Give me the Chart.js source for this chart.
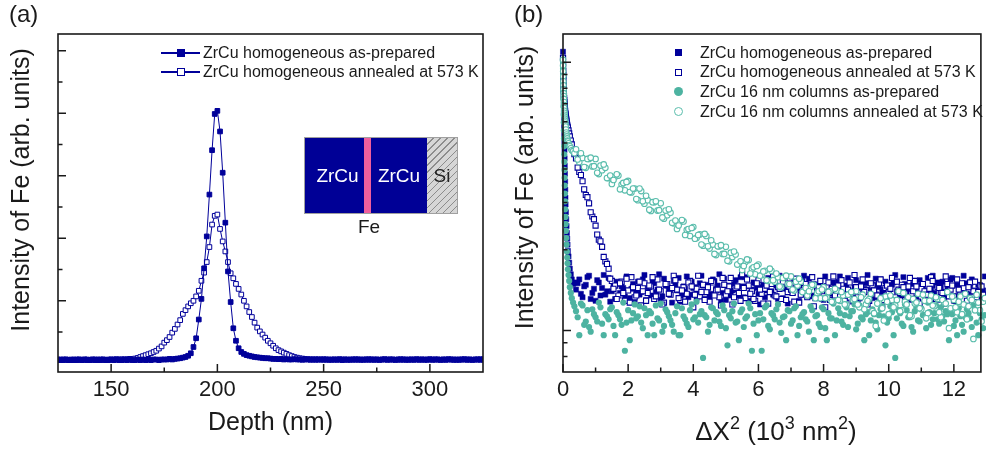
<!DOCTYPE html>
<html>
<head>
<meta charset="utf-8">
<title>Fe tracer profiles</title>
<script src="https://cdn.jsdelivr.net/npm/chart.js@4.4.1/dist/chart.umd.min.js"></script>
<style>
  html, body { margin: 0; padding: 0; background: #fff; }
  body { position: relative; width: 986px; height: 452px; overflow: hidden;
         font-family: "Liberation Sans", Arial, sans-serif; color: #1a1a1a; }
  canvas { position: absolute; top: 0; }
  #chartA { left: 0; }
  #chartB { left: 493px; }
  .tag { position: absolute; top: -1px; font-size: 24px; line-height: 30px; }
  .legend { position: absolute; font-size: 16px; }
  .legend .row { display: flex; align-items: center; white-space: nowrap; }
  .mark { position: relative; flex: none; height: 100%; }
  .mark span { position: absolute; box-sizing: border-box; }
  .inset div { position: absolute; box-sizing: border-box; }
  .inset .lbl { display: flex; align-items: center; justify-content: center; font-size: 19px; }
</style>
</head>
<body>
<canvas id="chartA" width="493" height="452"></canvas>
<canvas id="chartB" width="493" height="452"></canvas>
<div class="tag" style="left:9px">(a)</div>
<div class="tag" style="left:514px">(b)</div>
<div id="legendA" class="legend" style="left:161px; top:43px"></div>
<div id="legendB" class="legend" style="left:668px; top:43px"></div>

<!-- sample sketch inside panel (a) -->
<div class="inset">
  <div style="left:304px; top:137px; width:154px; height:77px; border:1px solid #a0a0a0"></div>
  <div style="left:305px; top:138px; width:59px; height:75px; background:#000096"></div>
  <div style="left:364px; top:138px; width:7px; height:75px; background:#ef5f9d"></div>
  <div style="left:371px; top:138px; width:56px; height:75px; background:#000096"></div>
  <div style="left:427px; top:138px; width:30px; height:75px;
              background:repeating-linear-gradient(135deg, #d6d6d6 0 4px, #8c8c8c 4px 5px)"></div>
  <div class="lbl" style="left:308px; top:138px; width:59px; height:75px; color:#fff">ZrCu</div>
  <div class="lbl" style="left:371px; top:138px; width:56px; height:75px; color:#fff">ZrCu</div>
  <div class="lbl" style="left:427px; top:138px; width:30px; height:75px; color:#222">Si</div>
  <div class="lbl" style="left:339px; top:214px; width:60px; height:26px; color:#1a1a1a">Fe</div>
</div>

<script>
// ---- panel (a): Fe depth profiles ----
const depthNm = [
  125, 126.25, 127.5, 128.75, 130, 131.25, 132.5, 133.75,
  135, 136.25, 137.5, 138.75, 140, 141.25, 142.5, 143.75,
  145, 146.25, 147.5, 148.75, 150, 151.25, 152.5, 153.75,
  155, 156.25, 157.5, 158.75, 160, 161.25, 162.5, 163.75,
  165, 166.25, 167.5, 168.75, 170, 171.25, 172.5, 173.75,
  175, 176.25, 177.5, 178.75, 180, 181.25, 182.5, 183.75,
  185, 186.25, 187.5, 188.75, 190, 191.25, 192.5, 193.75,
  195, 196.25, 197.5, 198.75, 200, 201.25, 202.5, 203.75,
  205, 206.25, 207.5, 208.75, 210, 211.25, 212.5, 213.75,
  215, 216.25, 217.5, 218.75, 220, 221.25, 222.5, 223.75,
  225, 226.25, 227.5, 228.75, 230, 231.25, 232.5, 233.75,
  235, 236.25, 237.5, 238.75, 240, 241.25, 242.5, 243.75,
  245, 246.25, 247.5, 248.75, 250, 251.25, 252.5, 253.75,
  255, 256.25, 257.5, 258.75, 260, 261.25, 262.5, 263.75,
  265, 266.25, 267.5, 268.75, 270, 271.25, 272.5, 273.75,
  275, 276.25, 277.5, 278.75, 280, 281.25, 282.5, 283.75,
  285, 286.25, 287.5, 288.75, 290, 291.25, 292.5, 293.75,
  295, 296.25, 297.5, 298.75, 300, 301.25, 302.5, 303.75,
  305, 306.25, 307.5, 308.75, 310, 311.25, 312.5, 313.75,
  315, 316.25, 317.5, 318.75, 320, 321.25, 322.5, 323.75, 325
];
const feAsPrepared = [
  0.05, 0.06, 0.05, 0.06, 0.05, 0.05, 0.06, 0.05,
  0.06, 0.05, 0.06, 0.05, 0.05, 0.06, 0.05, 0.06,
  0.05, 0.06, 0.05, 0.05, 0.06, 0.05, 0.06, 0.05,
  0.05, 0.06, 0.05, 0.06, 0.05, 0.05, 0.06, 0.05,
  0.06, 0.05, 0.06, 0.05, 0.06, 0.06, 0.05, 0.06,
  0.06, 0.06, 0.07, 0.06, 0.07, 0.075, 0.08, 0.09,
  0.10, 0.12, 0.16, 0.26, 0.40, 0.70, 1.03, 1.52,
  2.03, 2.70, 3.41, 3.99, 4.04, 3.71, 3.05, 2.25,
  1.47, 0.98, 0.56, 0.36, 0.24, 0.18, 0.15, 0.13,
  0.12, 0.11, 0.10, 0.095, 0.09, 0.085, 0.08, 0.08,
  0.075, 0.07, 0.07, 0.065, 0.07, 0.06, 0.065, 0.06,
  0.06, 0.065, 0.06, 0.06, 0.055, 0.06, 0.06, 0.055,
  0.06, 0.055, 0.06, 0.06, 0.055, 0.06, 0.055, 0.06,
  0.06, 0.055, 0.06, 0.05, 0.06, 0.055, 0.06, 0.06,
  0.055, 0.06, 0.055, 0.06, 0.06, 0.055, 0.06, 0.055,
  0.06, 0.055, 0.06, 0.06, 0.055, 0.06, 0.06, 0.055,
  0.06, 0.055, 0.06, 0.055, 0.06, 0.06, 0.055, 0.06,
  0.055, 0.06, 0.06, 0.055, 0.06, 0.055, 0.06, 0.06,
  0.055, 0.06, 0.055, 0.06, 0.06, 0.055, 0.06, 0.055,
  0.06, 0.06, 0.055, 0.06, 0.055, 0.06, 0.06, 0.055, 0.06
];
const feAnnealed = [
  0.06, 0.05, 0.06, 0.06, 0.05, 0.06, 0.05, 0.06,
  0.06, 0.05, 0.06, 0.06, 0.05, 0.06, 0.06, 0.05,
  0.06, 0.06, 0.05, 0.06, 0.06, 0.06, 0.065, 0.06,
  0.065, 0.06, 0.065, 0.07, 0.07, 0.075, 0.085, 0.10,
  0.115, 0.13, 0.145, 0.16, 0.18, 0.20, 0.235, 0.27,
  0.33, 0.37, 0.42, 0.49, 0.55, 0.62, 0.69, 0.79,
  0.85, 0.91, 0.96, 1.00, 1.07, 1.16, 1.32, 1.45,
  1.62, 1.86, 2.22, 2.36, 2.38, 2.15, 1.95, 1.79,
  1.62, 1.44, 1.36, 1.27, 1.19, 1.10, 1.00, 0.91,
  0.82, 0.74, 0.65, 0.57, 0.51, 0.46, 0.41, 0.36,
  0.32, 0.28, 0.24, 0.21, 0.19, 0.17, 0.15, 0.13,
  0.115, 0.10, 0.09, 0.08, 0.075, 0.07, 0.065, 0.065,
  0.06, 0.065, 0.06, 0.06, 0.065, 0.06, 0.06, 0.055,
  0.06, 0.06, 0.065, 0.06, 0.06, 0.06, 0.055, 0.06,
  0.065, 0.06, 0.06, 0.055, 0.06, 0.065, 0.06, 0.06,
  0.06, 0.055, 0.06, 0.065, 0.06, 0.06, 0.06, 0.055,
  0.06, 0.065, 0.06, 0.06, 0.055, 0.06, 0.06, 0.065,
  0.06, 0.06, 0.055, 0.06, 0.065, 0.06, 0.06, 0.06,
  0.055, 0.06, 0.06, 0.065, 0.06, 0.06, 0.055, 0.06,
  0.06, 0.065, 0.06, 0.06, 0.055, 0.06, 0.06, 0.065, 0.06
];
const depthTicks = [150, 175, 200, 225, 250, 275, 300];
const depthLabels = [150, 200, 250, 300];
const feTicksA = [0.5, 1, 1.5, 2, 2.5, 3, 3.5, 4, 4.5, 5];
const feMajorA = [1, 2, 3, 4, 5];

// ---- panel (b): intensity vs squared distance ----
// main grid
const dx2 = [
  0, 0.003, 0.006, 0.009, 0.012, 0.015, 0.018, 0.021, 0.024, 0.027,
  0.03, 0.034, 0.038, 0.042, 0.046, 0.05, 0.055, 0.06, 0.065, 0.07,
  0.075, 0.08, 0.09, 0.1, 0.11, 0.12, 0.13, 0.14, 0.15, 0.17,
  0.19, 0.21, 0.24, 0.27, 0.31, 0.35,
  0.4, 0.5, 0.6, 0.7, 0.8, 0.9, 1.0, 1.1, 1.2, 1.3,
  1.4, 1.5, 1.6, 1.7, 1.8, 1.9, 2.0, 2.1, 2.2, 2.3,
  2.4, 2.5, 2.6, 2.7, 2.8, 2.9, 3.0, 3.1, 3.2, 3.3,
  3.4, 3.5, 3.6, 3.7, 3.8, 3.9, 4.0, 4.1, 4.2, 4.3,
  4.4, 4.5, 4.6, 4.7, 4.8, 4.9, 5.0, 5.1, 5.2, 5.3,
  5.4, 5.5, 5.6, 5.7, 5.8, 5.9, 6.0, 6.1, 6.2, 6.3,
  6.4, 6.5, 6.6, 6.7, 6.8, 6.9, 7.0, 7.1, 7.2, 7.3,
  7.4, 7.5, 7.6, 7.7, 7.8, 7.9, 8.0, 8.1, 8.2, 8.3,
  8.4, 8.5, 8.6, 8.7, 8.8, 8.9, 9.0, 9.1, 9.2, 9.3,
  9.4, 9.5, 9.6, 9.7, 9.8, 9.9, 10.0, 10.1, 10.2, 10.3,
  10.4, 10.5, 10.6, 10.7, 10.8, 10.9, 11.0, 11.1, 11.2, 11.3,
  11.4, 11.5, 11.6, 11.7, 11.8, 11.9, 12.0, 12.1, 12.2, 12.3,
  12.4, 12.5, 12.6, 12.7, 12.8, 12.9, 13.0
];
// in-between grid (second half of the measured points)
const dx2Mid = [
  0.45, 0.55, 0.65, 0.75, 0.85, 0.95, 1.05, 1.15, 1.25, 1.35,
  1.45, 1.55, 1.65, 1.75, 1.85, 1.95, 2.05, 2.15, 2.25, 2.35,
  2.45, 2.55, 2.65, 2.75, 2.85, 2.95, 3.05, 3.15, 3.25, 3.35,
  3.45, 3.55, 3.65, 3.75, 3.85, 3.95, 4.05, 4.15, 4.25, 4.35,
  4.45, 4.55, 4.65, 4.75, 4.85, 4.95, 5.05, 5.15, 5.25, 5.35,
  5.45, 5.55, 5.65, 5.75, 5.85, 5.95, 6.05, 6.15, 6.25, 6.35,
  6.45, 6.55, 6.65, 6.75, 6.85, 6.95, 7.05, 7.15, 7.25, 7.35,
  7.45, 7.55, 7.65, 7.75, 7.85, 7.95, 8.05, 8.15, 8.25, 8.35,
  8.45, 8.55, 8.65, 8.75, 8.85, 8.95, 9.05, 9.15, 9.25, 9.35,
  9.45, 9.55, 9.65, 9.75, 9.85, 9.95, 10.05, 10.15, 10.25, 10.35,
  10.45, 10.55, 10.65, 10.75, 10.85, 10.95, 11.05, 11.15, 11.25, 11.35,
  11.45, 11.55, 11.65, 11.75, 11.85, 11.95, 12.05, 12.15, 12.25, 12.35,
  12.45, 12.55, 12.65, 12.75, 12.85, 12.95
];
const homAsPrep = [
  10.95, 10.40, 9.89, 9.32, 8.79, 8.28, 7.81, 7.36, 6.93, 6.54,
  6.16, 5.76, 5.38, 5.03, 4.70, 4.39, 4.11, 3.84, 3.59, 3.35,
  3.13, 2.95, 2.76, 2.60, 2.45, 2.31, 2.20, 2.09, 1.98, 1.89,
  1.79, 1.70, 1.62, 1.55, 1.49, 1.51,
  1.42, 1.55, 1.33, 1.48, 1.60, 1.38, 1.29, 1.51, 1.44, 1.36,
  1.57, 1.40, 1.31, 1.49, 1.46, 1.34, 1.58, 1.43, 1.27, 1.52,
  1.39, 1.61, 1.45, 1.35, 1.50, 1.42, 1.30, 1.56, 1.47, 1.37,
  1.53, 1.41, 1.28, 1.46, 1.59, 1.36, 1.44, 1.32, 1.50, 1.40,
  1.48, 1.33, 1.55, 1.43, 1.62, 1.38, 1.30, 1.47, 1.41, 1.54,
  1.35, 1.46, 1.58, 1.29, 1.42, 1.50, 1.37, 1.45, 1.33, 1.57,
  1.40, 1.52, 1.31, 1.44, 1.48, 1.26, 1.39, 1.55, 1.43, 1.36,
  1.60, 1.45, 1.34, 1.49, 1.41, 1.53, 1.30, 1.46, 1.38, 1.51,
  1.43, 1.59, 1.35, 1.47, 1.40, 1.28, 1.54, 1.44, 1.37, 1.50,
  1.42, 1.32, 1.56, 1.45, 1.39, 1.52, 1.34, 1.48, 1.61, 1.41,
  1.36, 1.49, 1.44, 1.30, 1.53, 1.40, 1.47, 1.35, 1.57, 1.43,
  1.38, 1.51, 1.46, 1.33, 1.42, 1.55, 1.29, 1.48, 1.40, 1.60,
  1.37, 1.45, 1.52, 1.34, 1.47, 1.41, 1.54
];
const homAsPrepMid = [
  1.50, 1.37, 1.46, 1.58, 1.31, 1.43, 1.54, 1.35, 1.61, 1.40,
  1.28, 1.47, 1.52, 1.38, 1.44, 1.59, 1.32, 1.49, 1.41, 1.36,
  1.55, 1.30, 1.45, 1.51, 1.39, 1.62, 1.34, 1.47, 1.42, 1.27,
  1.48, 1.57, 1.36, 1.43, 1.33, 1.52, 1.45, 1.39, 1.60, 1.31,
  1.44, 1.37, 1.53, 1.47, 1.29, 1.56, 1.40, 1.35, 1.49, 1.42,
  1.58, 1.33, 1.46, 1.38, 1.51, 1.44, 1.25, 1.48, 1.41, 1.55,
  1.36, 1.47, 1.60, 1.32, 1.43, 1.50, 1.38, 1.45, 1.29, 1.53,
  1.40, 1.56, 1.35, 1.48, 1.42, 1.31, 1.59, 1.44, 1.37, 1.46,
  1.52, 1.34, 1.41, 1.57, 1.39, 1.45, 1.30, 1.50, 1.43, 1.61,
  1.37, 1.48, 1.33, 1.55, 1.42, 1.46, 1.28, 1.51, 1.40, 1.35,
  1.58, 1.43, 1.38, 1.49, 1.32, 1.54, 1.45, 1.41, 1.36, 1.60,
  1.47, 1.30, 1.52, 1.39, 1.44, 1.57, 1.34, 1.46, 1.42, 1.50,
  1.36, 1.55, 1.41, 1.48, 1.33, 1.59
];
const homAnnealed = [
  10.40, 9.81, 9.32, 8.94, 8.64, 8.35, 8.14, 7.94, 7.81, 7.61,
  7.48, 7.36, 7.23, 7.11, 6.99, 6.88, 6.76, 6.65, 6.59, 6.48,
  6.43, 6.37, 6.27, 6.16, 6.06, 5.96, 5.85, 5.76, 5.71, 5.57,
  5.43, 5.29, 5.11, 4.94, 4.74, 4.54,
  4.38, 3.90, 3.60, 3.20, 2.98, 2.66, 2.46, 2.18, 2.05, 1.81,
  1.70, 1.53, 1.47, 1.35, 1.52, 1.29, 1.41, 1.58, 1.33, 1.44,
  1.24, 1.50, 1.38, 1.46, 1.31, 1.55, 1.40, 1.27, 1.49, 1.36,
  1.60, 1.42, 1.30, 1.45, 1.37, 1.53, 1.22, 1.43, 1.34, 1.48,
  1.39, 1.28, 1.51, 1.41, 1.33, 1.57, 1.36, 1.46, 1.25, 1.44,
  1.38, 1.62, 1.32, 1.47, 1.40, 1.29, 1.54, 1.37, 1.43, 1.26,
  1.49, 1.35, 1.45, 1.31, 1.56, 1.39, 1.42, 1.28, 1.50, 1.36,
  1.44, 1.33, 1.48, 1.23, 1.41, 1.53, 1.37, 1.46, 1.30, 1.59,
  1.40, 1.34, 1.43, 1.27, 1.51, 1.38, 1.45, 1.32, 1.55, 1.41,
  1.29, 1.47, 1.36, 1.50, 1.24, 1.44, 1.39, 1.57, 1.33, 1.42,
  1.48, 1.30, 1.46, 1.37, 1.53, 1.28, 1.43, 1.40, 1.35, 1.58,
  1.31, 1.45, 1.39, 1.26, 1.49, 1.42, 1.34, 1.55, 1.38, 1.44,
  1.29, 1.51, 1.40, 1.33, 1.47, 1.36, 1.43
];
const homAnnealedMid = [
  4.05, 3.80, 3.36, 3.14, 2.76, 2.60, 2.28, 2.15, 1.88, 1.77,
  1.56, 1.43, 1.31, 1.50, 1.38, 1.56, 1.27, 1.45, 1.35, 1.52,
  1.40, 1.29, 1.47, 1.58, 1.34, 1.42, 1.25, 1.49, 1.37, 1.44,
  1.54, 1.32, 1.41, 1.28, 1.51, 1.46, 1.36, 1.60, 1.39, 1.30,
  1.45, 1.53, 1.35, 1.42, 1.24, 1.48, 1.40, 1.57, 1.33, 1.46,
  1.29, 1.44, 1.55, 1.37, 1.31, 1.50, 1.42, 1.26, 1.47, 1.39,
  1.59, 1.34, 1.43, 1.52, 1.30, 1.46, 1.38, 1.56, 1.27, 1.41,
  1.49, 1.36, 1.58, 1.32, 1.45, 1.40, 1.22, 1.51, 1.43, 1.35,
  1.47, 1.54, 1.29, 1.42, 1.37, 1.61, 1.33, 1.46, 1.39, 1.25,
  1.50, 1.41, 1.35, 1.55, 1.30, 1.47, 1.43, 1.28, 1.52, 1.38,
  1.45, 1.32, 1.57, 1.40, 1.46, 1.26, 1.49, 1.36, 1.43, 1.53,
  1.31, 1.44, 1.38, 1.59, 1.34, 1.47, 1.29, 1.42, 1.50, 1.37,
  1.45, 1.33, 1.52, 1.39, 1.46, 1.30
];
const colAsPrep = [
  10.06, 9.48, 8.94, 8.35, 7.81, 7.30, 6.82, 6.37, 5.96, 5.57,
  5.20, 4.86, 4.54, 4.25, 3.97, 3.71, 3.47, 3.24, 3.03, 2.83,
  2.65, 2.49, 2.35, 2.21, 2.09, 1.97, 1.87, 1.78, 1.69, 1.61,
  1.53, 1.45, 1.38, 1.32, 1.27, 1.23,
  1.18, 0.96, 1.24, 1.08, 1.03, 1.20, 1.12, 1.27, 1.06, 1.15,
  1.10, 1.22, 0.96, 1.14, 1.05, 0.84, 1.19, 1.09, 1.25, 1.13,
  1.07, 1.21, 0.96, 1.16, 0.96, 1.11, 1.26, 1.04, 1.17, 1.09,
  0.99, 1.23, 0.96, 1.13, 1.06, 1.19, 1.10, 1.28, 1.15, 0.79,
  1.12, 1.05, 1.21, 1.17, 1.08, 1.24, 1.02, 1.14, 1.18, 1.07,
  0.92, 1.20, 1.11, 1.26, 0.84, 1.15, 1.09, 0.84, 1.22, 1.04,
  1.16, 1.10, 1.25, 0.98, 1.13, 1.19, 1.06, 1.21, 0.96, 1.12,
  1.17, 1.08, 1.23, 0.92, 1.14, 1.03, 1.20, 0.92, 1.11, 1.26,
  1.09, 1.16, 1.05, 1.22, 1.13, 1.18, 1.01, 1.24, 1.10, 1.15,
  0.96, 1.20, 1.07, 1.14, 1.23, 0.88, 1.11, 1.17, 0.79, 1.19,
  1.06, 1.25, 1.12, 1.03, 1.18, 1.09, 1.21, 1.14, 1.27, 1.05,
  1.16, 1.10, 1.22, 1.08, 1.15, 1.19, 1.04, 0.96, 1.13, 0.99,
  1.20, 1.11, 1.24, 1.07, 1.16, 1.02, 1.18
];
const colAsPrepMid = [
  1.12, 1.26, 1.05, 1.19, 0.99, 1.15, 1.08, 1.22, 0.96, 1.13,
  1.20, 1.04, 1.17, 1.10, 1.27, 1.07, 0.92, 1.16, 1.11, 1.23,
  1.02, 1.14, 1.18, 1.06, 1.24, 1.09, 0.99, 1.20, 1.13, 1.05,
  1.16, 0.96, 1.21, 1.10, 1.03, 1.25, 1.12, 1.07, 1.18, 1.14,
  0.99, 1.22, 1.09, 1.15, 1.04, 1.19, 0.88, 1.11, 1.26, 1.08,
  1.17, 1.03, 1.13, 1.21, 1.06, 0.96, 1.16, 1.10, 1.24, 1.01,
  1.14, 1.20, 1.07, 1.12, 0.92, 1.18, 1.09, 1.23, 1.04, 1.15,
  1.10, 0.99, 1.19, 1.13, 1.06, 1.22, 1.02, 1.16, 1.11, 0.96,
  1.21, 1.08, 1.14, 1.03, 1.18, 1.25, 1.06, 1.12, 0.92, 1.17,
  1.09, 1.15, 1.01, 1.20, 1.13, 1.07, 1.23, 0.96, 1.11, 1.16,
  1.04, 1.19, 1.12, 0.99, 1.22, 1.08, 1.14, 1.02, 1.17, 1.10,
  1.24, 1.06, 1.13, 1.18, 0.92, 1.15, 1.09, 1.21, 1.05, 1.12,
  1.16, 1.03, 1.19, 0.96, 1.10, 1.14
];
const colAnnealed = [
  10.23, 9.72, 9.25, 8.86, 8.49, 8.21, 7.94, 7.67, 7.48, 7.30,
  7.11, 6.93, 6.76, 6.59, 6.48, 6.37, 6.27, 6.16, 6.06, 5.96,
  5.85, 5.76, 5.61, 5.47, 5.38, 5.29, 5.20, 5.11, 5.07, 4.99,
  4.90, 4.86, 4.78, 4.70, 4.66, 4.58,
  4.74, 4.25, 4.40, 4.04, 4.36, 4.09, 4.36, 3.83, 3.96, 4.04,
  3.70, 3.52, 3.74, 3.78, 3.50, 3.33, 3.61, 3.27, 3.38, 3.06,
  3.31, 2.97, 3.06, 2.79, 3.01, 2.80, 2.98, 2.61, 2.69, 2.75,
  2.51, 2.39, 2.53, 2.55, 2.37, 2.25, 2.43, 2.21, 2.28, 2.07,
  2.25, 2.02, 2.09, 1.91, 2.06, 1.93, 2.05, 1.81, 1.88, 1.92,
  1.77, 1.68, 1.80, 1.83, 1.70, 1.62, 1.76, 1.61, 1.67, 1.53,
  1.67, 1.52, 1.58, 1.45, 1.58, 1.49, 1.59, 1.41, 1.47, 1.52,
  1.40, 1.35, 1.45, 1.48, 1.38, 1.32, 1.45, 1.33, 1.40, 1.28,
  1.41, 1.29, 1.35, 1.25, 1.37, 1.30, 1.40, 1.22, 1.36, 1.25,
  1.31, 1.18, 1.04, 1.27, 1.21, 1.34, 1.15, 1.30, 1.24, 1.40,
  1.19, 1.28, 1.33, 1.13, 1.26, 1.37, 1.20, 1.29, 1.16, 1.35,
  1.23, 1.31, 1.12, 1.27, 1.39, 1.21, 1.30, 1.17, 1.34, 1.25,
  1.10, 1.32, 0.93, 1.36, 1.19, 1.28, 1.24
];
const colAnnealedMid = [
  4.34, 4.58, 4.07, 4.36, 4.41, 4.10, 3.87, 4.12, 4.16, 3.70,
  3.78, 3.64, 3.82, 3.36, 3.55, 3.58, 3.28, 3.38, 3.09, 3.38,
  3.03, 3.18, 2.82, 3.01, 3.03, 2.81, 2.64, 2.80, 2.83, 2.52,
  2.57, 2.46, 2.58, 2.27, 2.39, 2.41, 2.20, 2.27, 2.09, 2.29,
  2.06, 2.17, 1.93, 2.06, 2.08, 1.93, 1.82, 1.95, 1.97, 1.76,
  1.81, 1.74, 1.84, 1.63, 1.72, 1.74, 1.60, 1.66, 1.54, 1.70,
  1.54, 1.63, 1.46, 1.57, 1.60, 1.49, 1.42, 1.52, 1.56, 1.39,
  1.44, 1.40, 1.48, 1.32, 1.40, 1.42, 1.32, 1.39, 1.28, 1.43,
  1.30, 1.39, 1.25, 1.36, 1.39, 1.31, 1.25,
  1.33, 1.20, 1.29, 1.37, 1.16, 1.26, 1.32, 1.09, 1.28, 1.35,
  1.22, 1.30, 1.18, 1.38, 1.25, 1.14, 1.31, 1.27, 1.21, 1.36,
  1.11, 1.29, 1.24, 1.33, 1.17, 1.30, 1.26, 1.02, 1.34, 1.22,
  1.28, 1.15, 1.37, 1.23, 1.30, 1.19, 1.27, 1.08, 1.32
];
const dxTicks = [0, 1, 2, 3, 4, 5, 6, 7, 8, 9, 10, 11, 12];
const dxLabels = [0, 2, 4, 6, 8, 10, 12];
const feTicksB = [0.8, 0.9, 1, 2, 3, 4, 5, 6, 7, 8, 9, 10];
const feMajorB = [1, 10];

const yTitle = 'Intensity of Fe (arb. units)';
const labelsA = ['ZrCu homogeneous as-prepared', 'ZrCu homogeneous annealed at 573 K'];
const labelsB = ['ZrCu homogeneous as-prepared', 'ZrCu homogeneous annealed at 573 K',
                 'ZrCu 16 nm columns as-prepared', 'ZrCu 16 nm columns annealed at 573 K'];

const NAVY = '#00009a';
const TEAL = '#4db3a1';
const TEAL_OPEN = '#5abdac';
const INK = '#1a1a1a';
const FONT = '"Liberation Sans", Arial, sans-serif';

Chart.defaults.font.family = FONT;
Chart.defaults.color = INK;

function pts(xs, ys) {
  return xs.map((x, i) => ({ x: x, y: ys[i] }));
}

function fixedTicks(values) {
  return scale => { scale.ticks = values.map(v => ({ value: v })); };
}

// inward ticks + closed frame, like the original plotting program
const frameTicks = {
  id: 'frameTicks',
  afterDraw(chart, args, o) {
    const { ctx, chartArea: a } = chart;
    const sx = chart.scales.x, sy = chart.scales.y;
    ctx.save();
    ctx.strokeStyle = INK;
    ctx.lineWidth = 1.5;
    ctx.beginPath();
    sx.ticks.forEach(t => {
      const p = sx.getPixelForValue(t.value);
      const len = o.xMajor.includes(t.value) ? 8 : 4.5;
      ctx.moveTo(p, a.bottom);
      ctx.lineTo(p, a.bottom - len);
    });
    sy.ticks.forEach(t => {
      const p = sy.getPixelForValue(t.value);
      const len = o.yMajor.includes(t.value) ? 8 : 4.5;
      ctx.moveTo(a.left, p);
      ctx.lineTo(a.left + len, p);
    });
    ctx.stroke();
    ctx.lineWidth = 1.6;
    ctx.strokeRect(a.left, a.top, a.right - a.left, a.bottom - a.top);
    ctx.restore();
  }
};

// axis titles with superscripts (x, y = baseline centre)
const axisTitles = {
  id: 'axisTitles',
  afterDraw(chart, args, o) {
    const ctx = chart.ctx;
    o.items.forEach(item => {
      const supSize = Math.round(item.size * 0.7);
      const setFont = p => { ctx.font = (p.sup ? supSize : item.size) + 'px ' + FONT; };
      ctx.save();
      ctx.translate(item.x, item.y);
      if (item.vertical) ctx.rotate(-Math.PI / 2);
      ctx.fillStyle = INK;
      ctx.textBaseline = 'alphabetic';
      let w = 0;
      item.parts.forEach(p => { setFont(p); w += ctx.measureText(p.t).width; });
      let cx = -w / 2;
      item.parts.forEach(p => {
        setFont(p);
        ctx.fillText(p.t, cx, p.sup ? -item.size * 0.42 : 0);
        cx += ctx.measureText(p.t).width;
      });
      ctx.restore();
    });
  }
};

function baseOptions(extra) {
  return Object.assign({
    responsive: false,
    animation: false,
    devicePixelRatio: 1,
    events: []
  }, extra);
}

// ---- chart (a) ----
new Chart(document.getElementById('chartA'), {
  type: 'line',
  data: {
    datasets: [
      { label: labelsA[0], data: pts(depthNm, feAsPrepared),
        borderColor: NAVY, borderWidth: 1, pointStyle: 'rect', pointRadius: 3.3,
        pointBackgroundColor: NAVY, pointBorderColor: NAVY, pointBorderWidth: 1 },
      { label: labelsA[1], data: pts(depthNm, feAnnealed),
        borderColor: NAVY, borderWidth: 1, pointStyle: 'rect', pointRadius: 3.3,
        pointBackgroundColor: '#fff', pointBorderColor: NAVY, pointBorderWidth: 1 }
    ]
  },
  options: baseOptions({
    layout: { padding: { top: 34, right: 10, left: 0, bottom: 0 } },
    scales: {
      x: {
        type: 'linear', min: 125, max: 325,
        afterBuildTicks: fixedTicks(depthTicks),
        afterFit: s => { s.height = 80; },
        grid: { display: false, drawTicks: false },
        border: { display: false },
        ticks: { autoSkip: false, maxRotation: 0, padding: 5, color: INK, font: { size: 22 },
                 callback: v => depthLabels.includes(v) ? String(v) : '' }
      },
      y: {
        min: -0.14, max: 5.27,
        afterBuildTicks: fixedTicks(feTicksA),
        afterFit: s => { s.width = 58; },
        grid: { display: false, drawTicks: false },
        border: { display: false },
        ticks: { display: false }
      }
    },
    plugins: {
      legend: { display: false },
      tooltip: { enabled: false },
      frameTicks: { xMajor: depthLabels, yMajor: feMajorA },
      axisTitles: { items: [
        { x: 270.5, y: 430, size: 25, parts: [{ t: 'Depth (nm)' }] },
        { x: 28.5, y: 190, size: 25, vertical: true, parts: [{ t: yTitle }] }
      ] }
    }
  }),
  plugins: [frameTicks, axisTitles]
});

// ---- chart (b) ----
const seriesB = [
  { label: labelsB[0], data: pts(dx2, homAsPrep).concat(pts(dx2Mid, homAsPrepMid)),
    shape: 'rect', filled: true, color: NAVY },
  { label: labelsB[1], data: pts(dx2, homAnnealed).concat(pts(dx2Mid, homAnnealedMid)),
    shape: 'rect', filled: false, color: NAVY },
  { label: labelsB[2], data: pts(dx2, colAsPrep).concat(pts(dx2Mid, colAsPrepMid)),
    shape: 'circle', filled: true, color: TEAL },
  { label: labelsB[3], data: pts(dx2, colAnnealed).concat(pts(dx2Mid, colAnnealedMid)),
    shape: 'circle', filled: false, color: TEAL_OPEN }
];

new Chart(document.getElementById('chartB'), {
  type: 'scatter',
  data: {
    // first dataset is painted last, so reverse to paint in legend order
    datasets: seriesB.slice().reverse().map(s => ({
      label: s.label,
      data: s.data,
      showLine: false,
      clip: false,
      pointStyle: s.shape,
      pointRadius: s.shape === 'rect' ? 3.6 : (s.filled ? 3.1 : 2.8),
      pointBackgroundColor: s.filled ? s.color : '#fff',
      pointBorderColor: s.color,
      pointBorderWidth: s.filled ? (s.shape === 'rect' ? 0.5 : 0) : 1.1
    }))
  },
  options: baseOptions({
    layout: { padding: { top: 34, right: 5, left: 0, bottom: 0 } },
    scales: {
      x: {
        type: 'linear', min: 0, max: 12.83,
        afterBuildTicks: fixedTicks(dxTicks),
        afterFit: s => { s.height = 80; },
        grid: { display: false, drawTicks: false },
        border: { display: false },
        ticks: { autoSkip: false, maxRotation: 0, padding: 5, color: INK, font: { size: 22 },
                 callback: v => dxLabels.includes(v) ? String(v) : '' }
      },
      y: {
        type: 'logarithmic', min: 0.7313, max: 12.75,
        afterBuildTicks: fixedTicks(feTicksB),
        afterFit: s => { s.width = 70; },
        grid: { display: false, drawTicks: false },
        border: { display: false },
        ticks: { display: false }
      }
    },
    plugins: {
      legend: { display: false },
      tooltip: { enabled: false },
      frameTicks: { xMajor: dxLabels, yMajor: feMajorB },
      axisTitles: { items: [
        { x: 283, y: 440, size: 26, parts: [
          { t: '\u0394X' }, { t: '2', sup: true }, { t: ' (10' }, { t: '3', sup: true },
          { t: ' nm' }, { t: '2', sup: true }, { t: ')' }
        ] },
        { x: 39.5, y: 187.5, size: 25, vertical: true, parts: [{ t: yTitle }] }
      ] }
    }
  }),
  plugins: [frameTicks, axisTitles]
});

// ---- legends (HTML, built from the series definitions) ----
function markHtml(shape, filled, color, size, border) {
  const radius = shape === 'circle' ? 'border-radius:50%;' : '';
  const fill = filled ? color : '#fff';
  return '<span style="width:' + size + 'px;height:' + size + 'px;left:50%;top:50%;' +
         'margin:' + (-size / 2) + 'px 0 0 ' + (-size / 2) + 'px;' + radius +
         'background:' + fill + ';border:' + (filled ? 0 : border) + 'px solid ' + color + '"></span>';
}

const legendA = document.getElementById('legendA');
[{ label: labelsA[0], filled: true }, { label: labelsA[1], filled: false }].forEach(item => {
  legendA.insertAdjacentHTML('beforeend',
    '<div class="row" style="height:19.5px">' +
      '<div class="mark" style="width:39px">' +
        '<span style="left:0;right:0;top:50%;height:2px;margin-top:-1px;background:' + NAVY + '"></span>' +
        markHtml('rect', item.filled, NAVY, 8, 1.6) +
      '</div>' +
      '<span style="margin-left:3px">' + item.label + '</span>' +
    '</div>');
});

const legendB = document.getElementById('legendB');
seriesB.forEach(s => {
  const size = s.shape === 'rect' ? 7 : 9;
  legendB.insertAdjacentHTML('beforeend',
    '<div class="row" style="height:19.6px">' +
      '<div class="mark" style="width:20px">' + markHtml(s.shape, s.filled, s.color, size, 1.7) + '</div>' +
      '<span style="margin-left:12px">' + s.label + '</span>' +
    '</div>');
});
</script>
</body>
</html>
